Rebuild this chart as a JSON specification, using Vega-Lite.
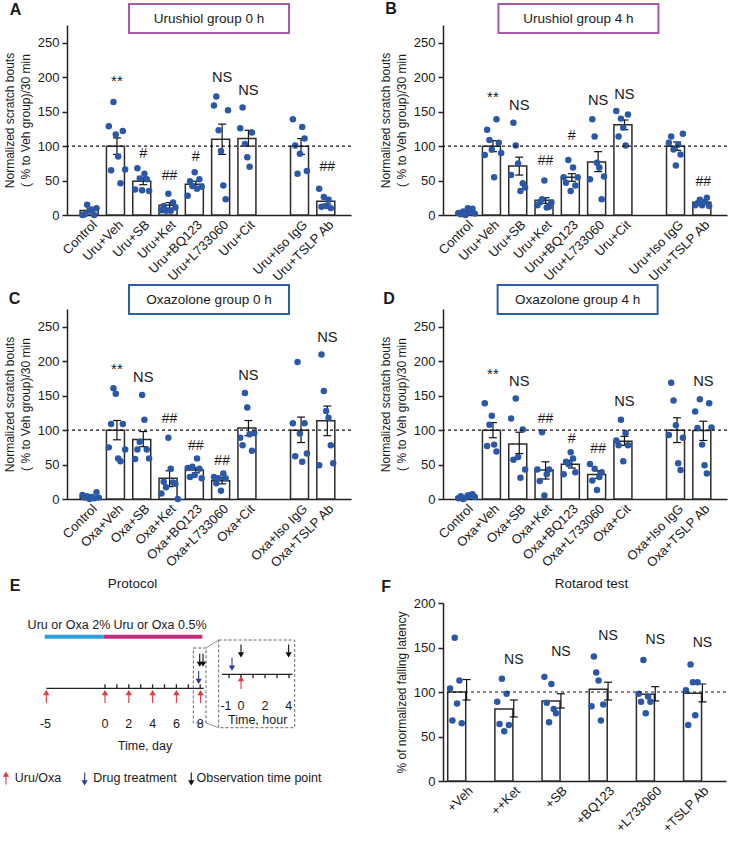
{
"$schema": "https://vega.github.io/schema/vega-lite/v6.json",
"background": "white",
"padding": {"left": 1, "top": 0, "right": 0, "bottom": 0},
"config": {
  "font": "Liberation Sans",
  "view": {"stroke": null},
  "axis": {"grid": false, "labelOverlap": false, "labelColor": "#1a1a1a", "titleColor": "#1a1a1a", "domainColor": "#222222", "tickColor": "#222222", "titleFontWeight": "normal", "labelFont": "Liberation Sans", "titleFont": "Liberation Sans"},
  "text": {"font": "Liberation Sans", "color": "#1a1a1a"}
},
"datasets": {
  "dots": [
    {"p":"A","g":"Control","r":1,"v":0},{"p":"A","g":"Control","r":2,"v":1},{"p":"A","g":"Control","r":3,"v":15},{"p":"A","g":"Control","r":4,"v":6},{"p":"A","g":"Control","r":5,"v":8},{"p":"A","g":"Control","r":6,"v":0},{"p":"A","g":"Control","r":7,"v":10},
    {"p":"A","g":"Uru+Veh","r":1,"v":129},{"p":"A","g":"Uru+Veh","r":2,"v":65},{"p":"A","g":"Uru+Veh","r":3,"v":164},{"p":"A","g":"Uru+Veh","r":4,"v":117},{"p":"A","g":"Uru+Veh","r":5,"v":85},{"p":"A","g":"Uru+Veh","r":6,"v":46},{"p":"A","g":"Uru+Veh","r":7,"v":122},{"p":"A","g":"Uru+Veh","r":8,"v":66},
    {"p":"A","g":"Uru+SB","r":1,"v":37},{"p":"A","g":"Uru+SB","r":2,"v":68},{"p":"A","g":"Uru+SB","r":3,"v":53},{"p":"A","g":"Uru+SB","r":4,"v":36},{"p":"A","g":"Uru+SB","r":5,"v":60},{"p":"A","g":"Uru+SB","r":6,"v":52},{"p":"A","g":"Uru+SB","r":7,"v":35},
    {"p":"A","g":"Uru+Ket","r":1,"v":7},{"p":"A","g":"Uru+Ket","r":2,"v":13},{"p":"A","g":"Uru+Ket","r":3,"v":6},{"p":"A","g":"Uru+Ket","r":4,"v":31},{"p":"A","g":"Uru+Ket","r":5,"v":6},{"p":"A","g":"Uru+Ket","r":6,"v":18},{"p":"A","g":"Uru+Ket","r":7,"v":11},
    {"p":"A","g":"Uru+BQ123","r":1,"v":28},{"p":"A","g":"Uru+BQ123","r":2,"v":49},{"p":"A","g":"Uru+BQ123","r":3,"v":42},{"p":"A","g":"Uru+BQ123","r":4,"v":62},{"p":"A","g":"Uru+BQ123","r":5,"v":38},{"p":"A","g":"Uru+BQ123","r":6,"v":52},{"p":"A","g":"Uru+BQ123","r":7,"v":41},
    {"p":"A","g":"Uru+L733060","r":1,"v":159},{"p":"A","g":"Uru+L733060","r":2,"v":172},{"p":"A","g":"Uru+L733060","r":3,"v":123},{"p":"A","g":"Uru+L733060","r":4,"v":93},{"p":"A","g":"Uru+L733060","r":5,"v":43},{"p":"A","g":"Uru+L733060","r":6,"v":23},{"p":"A","g":"Uru+L733060","r":7,"v":152},
    {"p":"A","g":"Uru+Cit","r":1,"v":126},{"p":"A","g":"Uru+Cit","r":2,"v":156},{"p":"A","g":"Uru+Cit","r":3,"v":103},{"p":"A","g":"Uru+Cit","r":4,"v":84},{"p":"A","g":"Uru+Cit","r":5,"v":70},{"p":"A","g":"Uru+Cit","r":6,"v":120},
    {"p":"A","g":"Uru+Iso IgG","r":1,"v":139},{"p":"A","g":"Uru+Iso IgG","r":2,"v":101},{"p":"A","g":"Uru+Iso IgG","r":3,"v":60},{"p":"A","g":"Uru+Iso IgG","r":4,"v":89},{"p":"A","g":"Uru+Iso IgG","r":5,"v":128},{"p":"A","g":"Uru+Iso IgG","r":6,"v":111},{"p":"A","g":"Uru+Iso IgG","r":7,"v":64},
    {"p":"A","g":"Uru+TSLP Ab","r":1,"v":38},{"p":"A","g":"Uru+TSLP Ab","r":2,"v":12},{"p":"A","g":"Uru+TSLP Ab","r":3,"v":26},{"p":"A","g":"Uru+TSLP Ab","r":4,"v":13},{"p":"A","g":"Uru+TSLP Ab","r":5,"v":22},{"p":"A","g":"Uru+TSLP Ab","r":6,"v":10},

    {"p":"B","g":"Control","r":1,"v":3},{"p":"B","g":"Control","r":2,"v":1},{"p":"B","g":"Control","r":3,"v":5},{"p":"B","g":"Control","r":4,"v":0},{"p":"B","g":"Control","r":5,"v":10},{"p":"B","g":"Control","r":6,"v":4},{"p":"B","g":"Control","r":7,"v":9},{"p":"B","g":"Control","r":8,"v":2},
    {"p":"B","g":"Uru+Veh","r":1,"v":87},{"p":"B","g":"Uru+Veh","r":2,"v":124},{"p":"B","g":"Uru+Veh","r":3,"v":109},{"p":"B","g":"Uru+Veh","r":4,"v":95},{"p":"B","g":"Uru+Veh","r":5,"v":55},{"p":"B","g":"Uru+Veh","r":6,"v":139},{"p":"B","g":"Uru+Veh","r":7,"v":105},{"p":"B","g":"Uru+Veh","r":8,"v":90},
    {"p":"B","g":"Uru+SB","r":1,"v":58},{"p":"B","g":"Uru+SB","r":2,"v":134},{"p":"B","g":"Uru+SB","r":3,"v":101},{"p":"B","g":"Uru+SB","r":4,"v":75},{"p":"B","g":"Uru+SB","r":5,"v":35},{"p":"B","g":"Uru+SB","r":6,"v":46},{"p":"B","g":"Uru+SB","r":7,"v":40},
    {"p":"B","g":"Uru+Ket","r":1,"v":14},{"p":"B","g":"Uru+Ket","r":2,"v":18},{"p":"B","g":"Uru+Ket","r":3,"v":23},{"p":"B","g":"Uru+Ket","r":4,"v":50},{"p":"B","g":"Uru+Ket","r":5,"v":11},{"p":"B","g":"Uru+Ket","r":6,"v":12},{"p":"B","g":"Uru+Ket","r":7,"v":18},
    {"p":"B","g":"Uru+BQ123","r":1,"v":55},{"p":"B","g":"Uru+BQ123","r":2,"v":47},{"p":"B","g":"Uru+BQ123","r":3,"v":80},{"p":"B","g":"Uru+BQ123","r":4,"v":35},{"p":"B","g":"Uru+BQ123","r":5,"v":69},{"p":"B","g":"Uru+BQ123","r":6,"v":43},{"p":"B","g":"Uru+BQ123","r":7,"v":55},
    {"p":"B","g":"Uru+L733060","r":1,"v":52},{"p":"B","g":"Uru+L733060","r":2,"v":139},{"p":"B","g":"Uru+L733060","r":3,"v":114},{"p":"B","g":"Uru+L733060","r":4,"v":76},{"p":"B","g":"Uru+L733060","r":5,"v":69},{"p":"B","g":"Uru+L733060","r":6,"v":23},{"p":"B","g":"Uru+L733060","r":7,"v":56},
    {"p":"B","g":"Uru+Cit","r":1,"v":151},{"p":"B","g":"Uru+Cit","r":2,"v":114},{"p":"B","g":"Uru+Cit","r":3,"v":140},{"p":"B","g":"Uru+Cit","r":4,"v":127},{"p":"B","g":"Uru+Cit","r":5,"v":101},{"p":"B","g":"Uru+Cit","r":6,"v":146},
    {"p":"B","g":"Uru+Iso IgG","r":1,"v":105},{"p":"B","g":"Uru+Iso IgG","r":2,"v":114},{"p":"B","g":"Uru+Iso IgG","r":3,"v":95},{"p":"B","g":"Uru+Iso IgG","r":4,"v":72},{"p":"B","g":"Uru+Iso IgG","r":5,"v":102},{"p":"B","g":"Uru+Iso IgG","r":6,"v":88},{"p":"B","g":"Uru+Iso IgG","r":7,"v":118},
    {"p":"B","g":"Uru+TSLP Ab","r":1,"v":14},{"p":"B","g":"Uru+TSLP Ab","r":2,"v":17},{"p":"B","g":"Uru+TSLP Ab","r":3,"v":22},{"p":"B","g":"Uru+TSLP Ab","r":4,"v":14},{"p":"B","g":"Uru+TSLP Ab","r":5,"v":19},{"p":"B","g":"Uru+TSLP Ab","r":6,"v":25},{"p":"B","g":"Uru+TSLP Ab","r":7,"v":13},

    {"p":"C","g":"Control","r":1,"v":6},{"p":"C","g":"Control","r":2,"v":2},{"p":"C","g":"Control","r":3,"v":4},{"p":"C","g":"Control","r":4,"v":0},{"p":"C","g":"Control","r":5,"v":3},{"p":"C","g":"Control","r":6,"v":1},{"p":"C","g":"Control","r":7,"v":10},{"p":"C","g":"Control","r":8,"v":2},
    {"p":"C","g":"Oxa+Veh","r":1,"v":75},{"p":"C","g":"Oxa+Veh","r":2,"v":109},{"p":"C","g":"Oxa+Veh","r":3,"v":161},{"p":"C","g":"Oxa+Veh","r":4,"v":153},{"p":"C","g":"Oxa+Veh","r":5,"v":59},{"p":"C","g":"Oxa+Veh","r":6,"v":55},{"p":"C","g":"Oxa+Veh","r":7,"v":109},{"p":"C","g":"Oxa+Veh","r":8,"v":72},
    {"p":"C","g":"Oxa+SB","r":1,"v":58},{"p":"C","g":"Oxa+SB","r":2,"v":72},{"p":"C","g":"Oxa+SB","r":3,"v":83},{"p":"C","g":"Oxa+SB","r":4,"v":151},{"p":"C","g":"Oxa+SB","r":5,"v":115},{"p":"C","g":"Oxa+SB","r":6,"v":72},{"p":"C","g":"Oxa+SB","r":7,"v":59},
    {"p":"C","g":"Oxa+Ket","r":1,"v":8},{"p":"C","g":"Oxa+Ket","r":2,"v":25},{"p":"C","g":"Oxa+Ket","r":3,"v":17},{"p":"C","g":"Oxa+Ket","r":4,"v":89},{"p":"C","g":"Oxa+Ket","r":5,"v":44},{"p":"C","g":"Oxa+Ket","r":6,"v":24},{"p":"C","g":"Oxa+Ket","r":7,"v":22},{"p":"C","g":"Oxa+Ket","r":8,"v":0},
    {"p":"C","g":"Oxa+BQ123","r":1,"v":45},{"p":"C","g":"Oxa+BQ123","r":2,"v":32},{"p":"C","g":"Oxa+BQ123","r":3,"v":47},{"p":"C","g":"Oxa+BQ123","r":4,"v":35},{"p":"C","g":"Oxa+BQ123","r":5,"v":59},{"p":"C","g":"Oxa+BQ123","r":6,"v":44},{"p":"C","g":"Oxa+BQ123","r":7,"v":30},
    {"p":"C","g":"Oxa+L733060","r":1,"v":32},{"p":"C","g":"Oxa+L733060","r":2,"v":23},{"p":"C","g":"Oxa+L733060","r":3,"v":30},{"p":"C","g":"Oxa+L733060","r":4,"v":12},{"p":"C","g":"Oxa+L733060","r":5,"v":37},{"p":"C","g":"Oxa+L733060","r":6,"v":30},
    {"p":"C","g":"Oxa+Cit","r":1,"v":89},{"p":"C","g":"Oxa+Cit","r":2,"v":78},{"p":"C","g":"Oxa+Cit","r":3,"v":154},{"p":"C","g":"Oxa+Cit","r":4,"v":133},{"p":"C","g":"Oxa+Cit","r":5,"v":94},{"p":"C","g":"Oxa+Cit","r":6,"v":70},{"p":"C","g":"Oxa+Cit","r":7,"v":96},
    {"p":"C","g":"Oxa+Iso IgG","r":1,"v":110},{"p":"C","g":"Oxa+Iso IgG","r":2,"v":62},{"p":"C","g":"Oxa+Iso IgG","r":3,"v":199},{"p":"C","g":"Oxa+Iso IgG","r":4,"v":95},{"p":"C","g":"Oxa+Iso IgG","r":5,"v":54},{"p":"C","g":"Oxa+Iso IgG","r":6,"v":110},{"p":"C","g":"Oxa+Iso IgG","r":7,"v":66},
    {"p":"C","g":"Oxa+TSLP Ab","r":1,"v":49},{"p":"C","g":"Oxa+TSLP Ab","r":2,"v":210},{"p":"C","g":"Oxa+TSLP Ab","r":3,"v":157},{"p":"C","g":"Oxa+TSLP Ab","r":4,"v":128},{"p":"C","g":"Oxa+TSLP Ab","r":5,"v":118},{"p":"C","g":"Oxa+TSLP Ab","r":6,"v":78},{"p":"C","g":"Oxa+TSLP Ab","r":7,"v":52},

    {"p":"D","g":"Control","r":1,"v":1},{"p":"D","g":"Control","r":2,"v":4},{"p":"D","g":"Control","r":3,"v":0},{"p":"D","g":"Control","r":4,"v":2},{"p":"D","g":"Control","r":5,"v":5},{"p":"D","g":"Control","r":6,"v":6},{"p":"D","g":"Control","r":7,"v":7},{"p":"D","g":"Control","r":8,"v":3},
    {"p":"D","g":"Oxa+Veh","r":1,"v":139},{"p":"D","g":"Oxa+Veh","r":2,"v":77},{"p":"D","g":"Oxa+Veh","r":3,"v":108},{"p":"D","g":"Oxa+Veh","r":4,"v":121},{"p":"D","g":"Oxa+Veh","r":5,"v":79},{"p":"D","g":"Oxa+Veh","r":6,"v":69},
    {"p":"D","g":"Oxa+SB","r":1,"v":117},{"p":"D","g":"Oxa+SB","r":2,"v":57},{"p":"D","g":"Oxa+SB","r":3,"v":146},{"p":"D","g":"Oxa+SB","r":4,"v":61},{"p":"D","g":"Oxa+SB","r":5,"v":31},{"p":"D","g":"Oxa+SB","r":6,"v":101},{"p":"D","g":"Oxa+SB","r":7,"v":43},
    {"p":"D","g":"Oxa+Ket","r":1,"v":43},{"p":"D","g":"Oxa+Ket","r":2,"v":26},{"p":"D","g":"Oxa+Ket","r":3,"v":97},{"p":"D","g":"Oxa+Ket","r":4,"v":5},{"p":"D","g":"Oxa+Ket","r":5,"v":36},{"p":"D","g":"Oxa+Ket","r":6,"v":43},
    {"p":"D","g":"Oxa+BQ123","r":1,"v":36},{"p":"D","g":"Oxa+BQ123","r":2,"v":54},{"p":"D","g":"Oxa+BQ123","r":3,"v":51},{"p":"D","g":"Oxa+BQ123","r":4,"v":68},{"p":"D","g":"Oxa+BQ123","r":5,"v":59},{"p":"D","g":"Oxa+BQ123","r":6,"v":39},
    {"p":"D","g":"Oxa+L733060","r":1,"v":51},{"p":"D","g":"Oxa+L733060","r":2,"v":27},{"p":"D","g":"Oxa+L733060","r":3,"v":44},{"p":"D","g":"Oxa+L733060","r":4,"v":13},{"p":"D","g":"Oxa+L733060","r":5,"v":32},{"p":"D","g":"Oxa+L733060","r":6,"v":39},
    {"p":"D","g":"Oxa+Cit","r":1,"v":85},{"p":"D","g":"Oxa+Cit","r":2,"v":78},{"p":"D","g":"Oxa+Cit","r":3,"v":115},{"p":"D","g":"Oxa+Cit","r":4,"v":55},{"p":"D","g":"Oxa+Cit","r":5,"v":96},{"p":"D","g":"Oxa+Cit","r":6,"v":78},
    {"p":"D","g":"Oxa+Iso IgG","r":1,"v":93},{"p":"D","g":"Oxa+Iso IgG","r":2,"v":169},{"p":"D","g":"Oxa+Iso IgG","r":3,"v":143},{"p":"D","g":"Oxa+Iso IgG","r":4,"v":107},{"p":"D","g":"Oxa+Iso IgG","r":5,"v":52},{"p":"D","g":"Oxa+Iso IgG","r":6,"v":42},{"p":"D","g":"Oxa+Iso IgG","r":7,"v":89},
    {"p":"D","g":"Oxa+TSLP Ab","r":1,"v":127},{"p":"D","g":"Oxa+TSLP Ab","r":2,"v":103},{"p":"D","g":"Oxa+TSLP Ab","r":3,"v":145},{"p":"D","g":"Oxa+TSLP Ab","r":4,"v":79},{"p":"D","g":"Oxa+TSLP Ab","r":5,"v":49},{"p":"D","g":"Oxa+TSLP Ab","r":6,"v":37},{"p":"D","g":"Oxa+TSLP Ab","r":7,"v":139},{"p":"D","g":"Oxa+TSLP Ab","r":8,"v":104},

    {"p":"F","g":"+Veh","r":1,"v":104},{"p":"F","g":"+Veh","r":2,"v":68},{"p":"F","g":"+Veh","r":3,"v":161},{"p":"F","g":"+Veh","r":4,"v":87},{"p":"F","g":"+Veh","r":5,"v":113},{"p":"F","g":"+Veh","r":6,"v":65},
    {"p":"F","g":"++Ket","r":1,"v":89},{"p":"F","g":"++Ket","r":2,"v":64},{"p":"F","g":"++Ket","r":3,"v":115},{"p":"F","g":"++Ket","r":4,"v":56},{"p":"F","g":"++Ket","r":5,"v":98},{"p":"F","g":"++Ket","r":6,"v":63},
    {"p":"F","g":"+SB","r":1,"v":117},{"p":"F","g":"+SB","r":2,"v":88},{"p":"F","g":"+SB","r":3,"v":66},{"p":"F","g":"+SB","r":4,"v":109},{"p":"F","g":"+SB","r":5,"v":81},{"p":"F","g":"+SB","r":6,"v":76},
    {"p":"F","g":"+BQ123","r":1,"v":84},{"p":"F","g":"+BQ123","r":2,"v":140},{"p":"F","g":"+BQ123","r":3,"v":122},{"p":"F","g":"+BQ123","r":4,"v":113},{"p":"F","g":"+BQ123","r":5,"v":68},{"p":"F","g":"+BQ123","r":6,"v":86},
    {"p":"F","g":"+L733060","r":1,"v":98},{"p":"F","g":"+L733060","r":2,"v":89},{"p":"F","g":"+L733060","r":3,"v":136},{"p":"F","g":"+L733060","r":4,"v":76},{"p":"F","g":"+L733060","r":5,"v":95},{"p":"F","g":"+L733060","r":6,"v":89},
    {"p":"F","g":"+TSLP Ab","r":1,"v":102},{"p":"F","g":"+TSLP Ab","r":2,"v":63},{"p":"F","g":"+TSLP Ab","r":3,"v":131},{"p":"F","g":"+TSLP Ab","r":4,"v":111},{"p":"F","g":"+TSLP Ab","r":5,"v":74},{"p":"F","g":"+TSLP Ab","r":6,"v":111}
  ],
  "bars": [
    {"p":"A","g":"Control","m":6.5,"lo":4,"hi":9},{"p":"A","g":"Uru+Veh","m":100,"lo":88,"hi":112},{"p":"A","g":"Uru+SB","m":49,"lo":44,"hi":54},{"p":"A","g":"Uru+Ket","m":14,"lo":10,"hi":18},{"p":"A","g":"Uru+BQ123","m":44.5,"lo":40,"hi":49},{"p":"A","g":"Uru+L733060","m":110,"lo":88,"hi":132},{"p":"A","g":"Uru+Cit","m":111,"lo":100,"hi":123},{"p":"A","g":"Uru+Iso IgG","m":100,"lo":88,"hi":111},{"p":"A","g":"Uru+TSLP Ab","m":20,"lo":16,"hi":25},
    {"p":"B","g":"Control","m":4,"lo":3,"hi":5},{"p":"B","g":"Uru+Veh","m":100,"lo":92,"hi":108},{"p":"B","g":"Uru+SB","m":71,"lo":58,"hi":84},{"p":"B","g":"Uru+Ket","m":21.5,"lo":17,"hi":25},{"p":"B","g":"Uru+BQ123","m":55,"lo":49,"hi":60},{"p":"B","g":"Uru+L733060","m":77,"lo":63,"hi":92},{"p":"B","g":"Uru+Cit","m":131,"lo":124,"hi":138},{"p":"B","g":"Uru+Iso IgG","m":100,"lo":94,"hi":106},{"p":"B","g":"Uru+TSLP Ab","m":18.5,"lo":16,"hi":21},
    {"p":"C","g":"Control","m":3,"lo":2,"hi":4},{"p":"C","g":"Oxa+Veh","m":100,"lo":86,"hi":114},{"p":"C","g":"Oxa+SB","m":86.5,"lo":76,"hi":98},{"p":"C","g":"Oxa+Ket","m":30,"lo":18,"hi":41},{"p":"C","g":"Oxa+BQ123","m":42,"lo":38,"hi":45},{"p":"C","g":"Oxa+L733060","m":26.5,"lo":22,"hi":31},{"p":"C","g":"Oxa+Cit","m":103,"lo":92,"hi":114},{"p":"C","g":"Oxa+Iso IgG","m":100,"lo":82,"hi":119},{"p":"C","g":"Oxa+TSLP Ab","m":113.5,"lo":92,"hi":135},
    {"p":"D","g":"Control","m":3.5,"lo":2,"hi":5},{"p":"D","g":"Oxa+Veh","m":100,"lo":89,"hi":111},{"p":"D","g":"Oxa+SB","m":80,"lo":66,"hi":97},{"p":"D","g":"Oxa+Ket","m":42,"lo":29,"hi":54},{"p":"D","g":"Oxa+BQ123","m":50.5,"lo":45,"hi":56},{"p":"D","g":"Oxa+L733060","m":35.5,"lo":30,"hi":41},{"p":"D","g":"Oxa+Cit","m":84,"lo":78,"hi":91},{"p":"D","g":"Oxa+Iso IgG","m":100,"lo":82,"hi":118},{"p":"D","g":"Oxa+TSLP Ab","m":99.5,"lo":85,"hi":113},
    {"p":"F","g":"+Veh","m":100,"lo":91,"hi":114},{"p":"F","g":"++Ket","m":81,"lo":72,"hi":91},{"p":"F","g":"+SB","m":90,"lo":82,"hi":98},{"p":"F","g":"+BQ123","m":103,"lo":91,"hi":111},{"p":"F","g":"+L733060","m":97.5,"lo":90,"hi":106},{"p":"F","g":"+TSLP Ab","m":98.5,"lo":89,"hi":109}
  ],
  "sig": [
    {"p":"A","g":"Uru+Veh","s":"**","y":194},{"p":"A","g":"Uru+SB","s":"#","y":88},{"p":"A","g":"Uru+Ket","s":"##","y":56.5},{"p":"A","g":"Uru+BQ123","s":"#","y":84.5},{"p":"A","g":"Uru+L733060","s":"NS","y":199},{"p":"A","g":"Uru+Cit","s":"NS","y":180},{"p":"A","g":"Uru+TSLP Ab","s":"##","y":70},
    {"p":"B","g":"Uru+Veh","s":"**","y":171},{"p":"B","g":"Uru+SB","s":"NS","y":159},{"p":"B","g":"Uru+Ket","s":"##","y":78},{"p":"B","g":"Uru+BQ123","s":"#","y":115},{"p":"B","g":"Uru+L733060","s":"NS","y":166},{"p":"B","g":"Uru+Cit","s":"NS","y":175},{"p":"B","g":"Uru+TSLP Ab","s":"##","y":48},
    {"p":"C","g":"Oxa+Veh","s":"**","y":189},{"p":"C","g":"Oxa+SB","s":"NS","y":176},{"p":"C","g":"Oxa+Ket","s":"##","y":115.5},{"p":"C","g":"Oxa+BQ123","s":"##","y":77},{"p":"C","g":"Oxa+L733060","s":"##","y":55.5},{"p":"C","g":"Oxa+Cit","s":"NS","y":178},{"p":"C","g":"Oxa+TSLP Ab","s":"NS","y":234},
    {"p":"D","g":"Oxa+Veh","s":"**","y":181},{"p":"D","g":"Oxa+SB","s":"NS","y":170.5},{"p":"D","g":"Oxa+Ket","s":"##","y":115.6},{"p":"D","g":"Oxa+BQ123","s":"#","y":87.7},{"p":"D","g":"Oxa+L733060","s":"##","y":72},{"p":"D","g":"Oxa+Cit","s":"NS","y":140.6},{"p":"D","g":"Oxa+TSLP Ab","s":"NS","y":170.5},
    {"p":"F","g":"++Ket","s":"NS","y":136},{"p":"F","g":"+SB","s":"NS","y":144.5},{"p":"F","g":"+BQ123","s":"NS","y":163},{"p":"F","g":"+L733060","s":"NS","y":158.7},{"p":"F","g":"+TSLP Ab","s":"NS","y":154.6}
  ],
  "eBars": [{"x":-5.07,"x2":-0.11,"y":43.7,"k":"2%"},{"x":-0.11,"x2":8.18,"y":43.7,"k":"0.5%"}],
  "eLines": [
    {"x":-4.93,"x2":8.29,"y":95.3,"y2":95.3},
    {"x":0,"x2":0,"y":91.3,"y2":95.3},{"x":1,"x2":1,"y":91.3,"y2":95.3},{"x":2,"x2":2,"y":91.3,"y2":95.3},{"x":3,"x2":3,"y":91.3,"y2":95.3},{"x":4,"x2":4,"y":91.3,"y2":95.3},{"x":5,"x2":5,"y":91.3,"y2":95.3},{"x":6,"x2":6,"y":91.3,"y2":95.3},{"x":7,"x2":7,"y":91.3,"y2":95.3},{"x":8,"x2":8,"y":91.3,"y2":95.3}
  ],
  "eBoxes": [{"x":7.42,"x2":8.49,"y":55,"y2":130},{"x":9.55,"x2":15.94,"y":47,"y2":134.7}],
  "eConn": [{"x":8.49,"x2":9.55,"y":55,"y2":47},{"x":8.49,"x2":9.55,"y":130,"y2":134.7}],
  "eArrowsD": [
    {"x":-4.93,"y":104,"k":"Uru/Oxa"},{"x":0,"y":104,"k":"Uru/Oxa"},{"x":2,"y":104,"k":"Uru/Oxa"},{"x":4,"y":104,"k":"Uru/Oxa"},{"x":6,"y":104,"k":"Uru/Oxa"},{"x":8.03,"y":104,"k":"Uru/Oxa"},
    {"x":7.96,"y":66.8,"k":"Observation time point"},{"x":8.24,"y":66.8,"k":"Observation time point"},{"x":7.87,"y":84,"k":"Drug treatment"},
    {"x":-8.32,"y":185.5,"k":"Uru/Oxa"},{"x":-1.71,"y":185.5,"k":"Drug treatment"},{"x":7.25,"y":185.5,"k":"Observation time point"}
  ],
  "eTextD": [
    {"x":-3.03,"y":32.3,"t":"Uru or Oxa 2%"},{"x":4.62,"y":32.3,"t":"Uru or Oxa 0.5%"},
    {"x":-5,"y":130.7,"t":"-5"},{"x":0,"y":130.7,"t":"0"},{"x":2,"y":130.7,"t":"2"},{"x":4,"y":130.7,"t":"4"},{"x":6,"y":130.7,"t":"6"},{"x":8,"y":130.7,"t":"8"},
    {"x":3.36,"y":153,"t":"Time, day"},
    {"x":-5.63,"y":185.3,"t":"Uru/Oxa"},{"x":2.52,"y":185.3,"t":"Drug treatment"},{"x":12.94,"y":185.3,"t":"Observation time point"}
  ],
  "eLinesH": [
    {"x":-1.58,"x2":4.3,"y":81.3,"y2":81.3},
    {"x":-1,"x2":-1,"y":81.3,"y2":85.3},{"x":0,"x2":0,"y":81.3,"y2":85.3},{"x":1,"x2":1,"y":81.3,"y2":85.3},{"x":2,"x2":2,"y":81.3,"y2":85.3},{"x":3,"x2":3,"y":81.3,"y2":85.3},{"x":4,"x2":4,"y":81.3,"y2":85.3}
  ],
  "eArrowsH": [
    {"x":-0.75,"y":70.7,"k":"Drug treatment"},{"x":0,"y":57.5,"k":"Observation time point"},{"x":3.97,"y":57.5,"k":"Observation time point"},{"x":0,"y":90,"k":"Uru/Oxa"}
  ],
  "eTextH": [
    {"x":-1.25,"y":113,"t":"-1"},{"x":0,"y":113,"t":"0"},{"x":2,"y":113,"t":"2"},{"x":3.97,"y":113,"t":"4"},{"x":1.39,"y":127,"t":"Time, hour"}
  ]
},
"columns": 2,
"bounds": "flush",
"spacing": {"row": 94, "column": 92},
"concat": [
  {
    "width": 284, "height": 190,
    "resolve": {"scale": {"x": "independent"}},
    "layer": [
      {"layer": [
        {"data": {"name": "bars"}, "transform": [{"filter": "datum.p == 'A'"}],
         "mark": {"type": "bar", "fill": "white", "stroke": "#2b2b2b", "strokeWidth": 1.5},
         "encoding": {
           "x": {"field": "g", "type": "nominal", "sort": null, "title": null,
                 "scale": {"domain": ["Control","Uru+Veh","Uru+SB","Uru+Ket","Uru+BQ123","Uru+L733060","Uru+Cit","gap","Uru+Iso IgG","Uru+TSLP Ab"], "paddingInner": 0.2, "paddingOuter": 0.5},
                 "axis": {"labelAngle": -45, "labelFontSize": 13, "ticks": false, "domainWidth": 1.5, "labelPadding": 3, "labelExpr": "datum.value == 'gap' ? '' : datum.value"}},
           "y": {"field": "m", "type": "quantitative", "title": ["Normalized scratch bouts", "( % to Veh group)/30 min"],
                 "scale": {"domain": [0, 276], "nice": false},
                 "axis": {"values": [0,50,100,150,200,250], "tickCount": 12, "labelOverlap": false, "labelFontSize": 13, "tickSize": 5, "tickWidth": 1.5, "domainWidth": 1.5, "labelPadding": 3, "titleFontSize": 12, "titleLineHeight": 16, "titlePadding": 5}}
         }},
        {"data": {"name": "bars"}, "transform": [{"filter": "datum.p == 'A'"}],
         "mark": {"type": "rule", "color": "#111111", "strokeWidth": 1.2},
         "encoding": {"x": {"field": "g", "type": "nominal"}, "y": {"field": "lo", "type": "quantitative"}, "y2": {"field": "hi"}}},
        {"data": {"name": "bars"}, "transform": [{"filter": "datum.p == 'A'"}],
         "mark": {"type": "tick", "color": "#111111", "size": 8, "thickness": 1.2, "opacity": 1},
         "encoding": {"x": {"field": "g", "type": "nominal"}, "y": {"field": "lo", "type": "quantitative"}}},
        {"data": {"name": "bars"}, "transform": [{"filter": "datum.p == 'A'"}],
         "mark": {"type": "tick", "color": "#111111", "size": 8, "thickness": 1.2, "opacity": 1},
         "encoding": {"x": {"field": "g", "type": "nominal"}, "y": {"field": "hi", "type": "quantitative"}}},
        {"data": {"name": "dots"}, "transform": [{"filter": "datum.p == 'A'"}],
         "mark": {"type": "point", "filled": true, "color": "#2a58a6", "size": 42, "opacity": 1, "strokeWidth": 0},
         "encoding": {"x": {"field": "g", "type": "nominal"}, "xOffset": {"field": "r", "type": "ordinal", "scale": {"domain": [1,2,3,4,5,6,7,8]}}, "y": {"field": "v", "type": "quantitative"}}},
        {"data": {"values": [{}]},
         "mark": {"type": "rule", "strokeDash": [3, 3], "color": "#111111", "strokeWidth": 1.2},
         "encoding": {"y": {"datum": 100, "type": "quantitative"}}},
        {"data": {"name": "sig"}, "transform": [{"filter": "datum.p == 'A'"}],
         "mark": {"type": "text", "baseline": "middle", "align": "center"},
         "encoding": {"x": {"field": "g", "type": "nominal"}, "y": {"field": "y", "type": "quantitative"}, "text": {"field": "s"},
                      "size": {"field": "s", "type": "nominal", "scale": {"domain": ["**","NS","#","##"], "range": [15,14,10.5,10.5]}, "legend": null}}}
      ]},
      {"data": {"values": [{"letter": "A", "title": "Urushiol group 0 h"}]},
       "layer": [
        {"mark": {"type": "text", "fontSize": 16, "fontWeight": "bold", "baseline": "middle", "align": "center"},
         "encoding": {"x": {"datum": -0.181, "type": "quantitative", "scale": {"domain": [0, 1]}, "axis": null}, "y": {"datum": 297.8, "type": "quantitative"}, "text": {"field": "letter"}}},
        {"mark": {"type": "point", "shape": "M-1,-0.181L1,-0.181L1,0.181L-1,0.181Z", "size": 25600, "filled": false, "stroke": "#a65aa8", "strokeWidth": 2, "opacity": 1},
         "encoding": {"x": {"datum": 0.5, "type": "quantitative", "scale": {"domain": [0, 1]}, "axis": null}, "y": {"datum": 285.4, "type": "quantitative"}}},
        {"mark": {"type": "text", "fontSize": 13.5, "baseline": "middle", "align": "center"},
         "encoding": {"x": {"datum": 0.5, "type": "quantitative", "scale": {"domain": [0, 1]}, "axis": null}, "y": {"datum": 285.4, "type": "quantitative"}, "text": {"field": "title"}}}
       ]}
    ]
  },
  {
    "width": 284, "height": 190,
    "resolve": {"scale": {"x": "independent"}},
    "layer": [
      {"layer": [
        {"data": {"name": "bars"}, "transform": [{"filter": "datum.p == 'B'"}],
         "mark": {"type": "bar", "fill": "white", "stroke": "#2b2b2b", "strokeWidth": 1.5},
         "encoding": {
           "x": {"field": "g", "type": "nominal", "sort": null, "title": null,
                 "scale": {"domain": ["Control","Uru+Veh","Uru+SB","Uru+Ket","Uru+BQ123","Uru+L733060","Uru+Cit","gap","Uru+Iso IgG","Uru+TSLP Ab"], "paddingInner": 0.2, "paddingOuter": 0.5},
                 "axis": {"labelAngle": -45, "labelFontSize": 13, "ticks": false, "domainWidth": 1.5, "labelPadding": 3, "labelExpr": "datum.value == 'gap' ? '' : datum.value"}},
           "y": {"field": "m", "type": "quantitative", "title": ["Normalized scratch bouts", "( % to Veh group)/30 min"],
                 "scale": {"domain": [0, 276], "nice": false},
                 "axis": {"values": [0,50,100,150,200,250], "tickCount": 12, "labelOverlap": false, "labelFontSize": 13, "tickSize": 5, "tickWidth": 1.5, "domainWidth": 1.5, "labelPadding": 3, "titleFontSize": 12, "titleLineHeight": 16, "titlePadding": 5}}
         }},
        {"data": {"name": "bars"}, "transform": [{"filter": "datum.p == 'B'"}],
         "mark": {"type": "rule", "color": "#111111", "strokeWidth": 1.2},
         "encoding": {"x": {"field": "g", "type": "nominal"}, "y": {"field": "lo", "type": "quantitative"}, "y2": {"field": "hi"}}},
        {"data": {"name": "bars"}, "transform": [{"filter": "datum.p == 'B'"}],
         "mark": {"type": "tick", "color": "#111111", "size": 8, "thickness": 1.2, "opacity": 1},
         "encoding": {"x": {"field": "g", "type": "nominal"}, "y": {"field": "lo", "type": "quantitative"}}},
        {"data": {"name": "bars"}, "transform": [{"filter": "datum.p == 'B'"}],
         "mark": {"type": "tick", "color": "#111111", "size": 8, "thickness": 1.2, "opacity": 1},
         "encoding": {"x": {"field": "g", "type": "nominal"}, "y": {"field": "hi", "type": "quantitative"}}},
        {"data": {"name": "dots"}, "transform": [{"filter": "datum.p == 'B'"}],
         "mark": {"type": "point", "filled": true, "color": "#2a58a6", "size": 42, "opacity": 1, "strokeWidth": 0},
         "encoding": {"x": {"field": "g", "type": "nominal"}, "xOffset": {"field": "r", "type": "ordinal", "scale": {"domain": [1,2,3,4,5,6,7,8]}}, "y": {"field": "v", "type": "quantitative"}}},
        {"data": {"values": [{}]},
         "mark": {"type": "rule", "strokeDash": [3, 3], "color": "#111111", "strokeWidth": 1.2},
         "encoding": {"y": {"datum": 100, "type": "quantitative"}}},
        {"data": {"name": "sig"}, "transform": [{"filter": "datum.p == 'B'"}],
         "mark": {"type": "text", "baseline": "middle", "align": "center"},
         "encoding": {"x": {"field": "g", "type": "nominal"}, "y": {"field": "y", "type": "quantitative"}, "text": {"field": "s"},
                      "size": {"field": "s", "type": "nominal", "scale": {"domain": ["**","NS","#","##"], "range": [15,14,10.5,10.5]}, "legend": null}}}
      ]},
      {"data": {"values": [{"letter": "B", "title": "Urushiol group 4 h"}]},
       "layer": [
        {"mark": {"type": "text", "fontSize": 16, "fontWeight": "bold", "baseline": "middle", "align": "center"},
         "encoding": {"x": {"datum": -0.183, "type": "quantitative", "scale": {"domain": [0, 1]}, "axis": null}, "y": {"datum": 299, "type": "quantitative"}, "text": {"field": "letter"}}},
        {"mark": {"type": "point", "shape": "M-1,-0.181L1,-0.181L1,0.181L-1,0.181Z", "size": 25600, "filled": false, "stroke": "#a65aa8", "strokeWidth": 2, "opacity": 1},
         "encoding": {"x": {"datum": 0.477, "type": "quantitative", "scale": {"domain": [0, 1]}, "axis": null}, "y": {"datum": 285.4, "type": "quantitative"}}},
        {"mark": {"type": "text", "fontSize": 13.5, "baseline": "middle", "align": "center"},
         "encoding": {"x": {"datum": 0.477, "type": "quantitative", "scale": {"domain": [0, 1]}, "axis": null}, "y": {"datum": 285.4, "type": "quantitative"}, "text": {"field": "title"}}}
       ]}
    ]
  },
  {
    "width": 284, "height": 190,
    "resolve": {"scale": {"x": "independent"}},
    "layer": [
      {"layer": [
        {"data": {"name": "bars"}, "transform": [{"filter": "datum.p == 'C'"}],
         "mark": {"type": "bar", "fill": "white", "stroke": "#2b2b2b", "strokeWidth": 1.5},
         "encoding": {
           "x": {"field": "g", "type": "nominal", "sort": null, "title": null,
                 "scale": {"domain": ["Control","Oxa+Veh","Oxa+SB","Oxa+Ket","Oxa+BQ123","Oxa+L733060","Oxa+Cit","gap","Oxa+Iso IgG","Oxa+TSLP Ab"], "paddingInner": 0.2, "paddingOuter": 0.5},
                 "axis": {"labelAngle": -45, "labelFontSize": 13, "ticks": false, "domainWidth": 1.5, "labelPadding": 3, "labelExpr": "datum.value == 'gap' ? '' : datum.value"}},
           "y": {"field": "m", "type": "quantitative", "title": ["Normalized scratch bouts", "( % to Veh group)/30 min"],
                 "scale": {"domain": [0, 276], "nice": false},
                 "axis": {"values": [0,50,100,150,200,250], "tickCount": 12, "labelOverlap": false, "labelFontSize": 13, "tickSize": 5, "tickWidth": 1.5, "domainWidth": 1.5, "labelPadding": 3, "titleFontSize": 12, "titleLineHeight": 16, "titlePadding": 5}}
         }},
        {"data": {"name": "bars"}, "transform": [{"filter": "datum.p == 'C'"}],
         "mark": {"type": "rule", "color": "#111111", "strokeWidth": 1.2},
         "encoding": {"x": {"field": "g", "type": "nominal"}, "y": {"field": "lo", "type": "quantitative"}, "y2": {"field": "hi"}}},
        {"data": {"name": "bars"}, "transform": [{"filter": "datum.p == 'C'"}],
         "mark": {"type": "tick", "color": "#111111", "size": 8, "thickness": 1.2, "opacity": 1},
         "encoding": {"x": {"field": "g", "type": "nominal"}, "y": {"field": "lo", "type": "quantitative"}}},
        {"data": {"name": "bars"}, "transform": [{"filter": "datum.p == 'C'"}],
         "mark": {"type": "tick", "color": "#111111", "size": 8, "thickness": 1.2, "opacity": 1},
         "encoding": {"x": {"field": "g", "type": "nominal"}, "y": {"field": "hi", "type": "quantitative"}}},
        {"data": {"name": "dots"}, "transform": [{"filter": "datum.p == 'C'"}],
         "mark": {"type": "point", "filled": true, "color": "#2a58a6", "size": 42, "opacity": 1, "strokeWidth": 0},
         "encoding": {"x": {"field": "g", "type": "nominal"}, "xOffset": {"field": "r", "type": "ordinal", "scale": {"domain": [1,2,3,4,5,6,7,8]}}, "y": {"field": "v", "type": "quantitative"}}},
        {"data": {"values": [{}]},
         "mark": {"type": "rule", "strokeDash": [3, 3], "color": "#111111", "strokeWidth": 1.2},
         "encoding": {"y": {"datum": 100, "type": "quantitative"}}},
        {"data": {"name": "sig"}, "transform": [{"filter": "datum.p == 'C'"}],
         "mark": {"type": "text", "baseline": "middle", "align": "center"},
         "encoding": {"x": {"field": "g", "type": "nominal"}, "y": {"field": "y", "type": "quantitative"}, "text": {"field": "s"},
                      "size": {"field": "s", "type": "nominal", "scale": {"domain": ["**","NS","#","##"], "range": [15,14,10.5,10.5]}, "legend": null}}}
      ]},
      {"data": {"values": [{"letter": "C", "title": "Oxazolone group 0 h"}]},
       "layer": [
        {"mark": {"type": "text", "fontSize": 16, "fontWeight": "bold", "baseline": "middle", "align": "center"},
         "encoding": {"x": {"datum": -0.185, "type": "quantitative", "scale": {"domain": [0, 1]}, "axis": null}, "y": {"datum": 290.5, "type": "quantitative"}, "text": {"field": "letter"}}},
        {"mark": {"type": "point", "shape": "M-1,-0.181L1,-0.181L1,0.181L-1,0.181Z", "size": 25600, "filled": false, "stroke": "#2e60a8", "strokeWidth": 2, "opacity": 1},
         "encoding": {"x": {"datum": 0.5, "type": "quantitative", "scale": {"domain": [0, 1]}, "axis": null}, "y": {"datum": 289.8, "type": "quantitative"}}},
        {"mark": {"type": "text", "fontSize": 13.5, "baseline": "middle", "align": "center"},
         "encoding": {"x": {"datum": 0.5, "type": "quantitative", "scale": {"domain": [0, 1]}, "axis": null}, "y": {"datum": 289.8, "type": "quantitative"}, "text": {"field": "title"}}}
       ]}
    ]
  },
  {
    "width": 284, "height": 190,
    "resolve": {"scale": {"x": "independent"}},
    "layer": [
      {"layer": [
        {"data": {"name": "bars"}, "transform": [{"filter": "datum.p == 'D'"}],
         "mark": {"type": "bar", "fill": "white", "stroke": "#2b2b2b", "strokeWidth": 1.5},
         "encoding": {
           "x": {"field": "g", "type": "nominal", "sort": null, "title": null,
                 "scale": {"domain": ["Control","Oxa+Veh","Oxa+SB","Oxa+Ket","Oxa+BQ123","Oxa+L733060","Oxa+Cit","gap","Oxa+Iso IgG","Oxa+TSLP Ab"], "paddingInner": 0.2, "paddingOuter": 0.5},
                 "axis": {"labelAngle": -45, "labelFontSize": 13, "ticks": false, "domainWidth": 1.5, "labelPadding": 3, "labelExpr": "datum.value == 'gap' ? '' : datum.value"}},
           "y": {"field": "m", "type": "quantitative", "title": ["Normalized scratch bouts", "( % to Veh group)/30 min"],
                 "scale": {"domain": [0, 276], "nice": false},
                 "axis": {"values": [0,50,100,150,200,250], "tickCount": 12, "labelOverlap": false, "labelFontSize": 13, "tickSize": 5, "tickWidth": 1.5, "domainWidth": 1.5, "labelPadding": 3, "titleFontSize": 12, "titleLineHeight": 16, "titlePadding": 5}}
         }},
        {"data": {"name": "bars"}, "transform": [{"filter": "datum.p == 'D'"}],
         "mark": {"type": "rule", "color": "#111111", "strokeWidth": 1.2},
         "encoding": {"x": {"field": "g", "type": "nominal"}, "y": {"field": "lo", "type": "quantitative"}, "y2": {"field": "hi"}}},
        {"data": {"name": "bars"}, "transform": [{"filter": "datum.p == 'D'"}],
         "mark": {"type": "tick", "color": "#111111", "size": 8, "thickness": 1.2, "opacity": 1},
         "encoding": {"x": {"field": "g", "type": "nominal"}, "y": {"field": "lo", "type": "quantitative"}}},
        {"data": {"name": "bars"}, "transform": [{"filter": "datum.p == 'D'"}],
         "mark": {"type": "tick", "color": "#111111", "size": 8, "thickness": 1.2, "opacity": 1},
         "encoding": {"x": {"field": "g", "type": "nominal"}, "y": {"field": "hi", "type": "quantitative"}}},
        {"data": {"name": "dots"}, "transform": [{"filter": "datum.p == 'D'"}],
         "mark": {"type": "point", "filled": true, "color": "#2a58a6", "size": 42, "opacity": 1, "strokeWidth": 0},
         "encoding": {"x": {"field": "g", "type": "nominal"}, "xOffset": {"field": "r", "type": "ordinal", "scale": {"domain": [1,2,3,4,5,6,7,8]}}, "y": {"field": "v", "type": "quantitative"}}},
        {"data": {"values": [{}]},
         "mark": {"type": "rule", "strokeDash": [3, 3], "color": "#111111", "strokeWidth": 1.2},
         "encoding": {"y": {"datum": 100, "type": "quantitative"}}},
        {"data": {"name": "sig"}, "transform": [{"filter": "datum.p == 'D'"}],
         "mark": {"type": "text", "baseline": "middle", "align": "center"},
         "encoding": {"x": {"field": "g", "type": "nominal"}, "y": {"field": "y", "type": "quantitative"}, "text": {"field": "s"},
                      "size": {"field": "s", "type": "nominal", "scale": {"domain": ["**","NS","#","##"], "range": [15,14,10.5,10.5]}, "legend": null}}}
      ]},
      {"data": {"values": [{"letter": "D", "title": "Oxazolone group 4 h"}]},
       "layer": [
        {"mark": {"type": "text", "fontSize": 16, "fontWeight": "bold", "baseline": "middle", "align": "center"},
         "encoding": {"x": {"datum": -0.19, "type": "quantitative", "scale": {"domain": [0, 1]}, "axis": null}, "y": {"datum": 290.5, "type": "quantitative"}, "text": {"field": "letter"}}},
        {"mark": {"type": "point", "shape": "M-1,-0.181L1,-0.181L1,0.181L-1,0.181Z", "size": 25600, "filled": false, "stroke": "#2e60a8", "strokeWidth": 2, "opacity": 1},
         "encoding": {"x": {"datum": 0.474, "type": "quantitative", "scale": {"domain": [0, 1]}, "axis": null}, "y": {"datum": 289.8, "type": "quantitative"}}},
        {"mark": {"type": "text", "fontSize": 13.5, "baseline": "middle", "align": "center"},
         "encoding": {"x": {"datum": 0.474, "type": "quantitative", "scale": {"domain": [0, 1]}, "axis": null}, "y": {"datum": 289.8, "type": "quantitative"}, "text": {"field": "title"}}}
       ]}
    ]
  },
  {
    "width": 284, "height": 188,
    "resolve": {"scale": {"x": "independent"}},
    "layer": [
      {"layer": [
        {"data": {"name": "eBars"}, "mark": {"type": "rule", "strokeWidth": 4},
         "encoding": {"x": {"field": "x", "type": "quantitative", "scale": {"domain": [-3.193, 20.672], "nice": false, "zero": false}, "axis": null},
                      "x2": {"field": "x2"},
                      "y": {"field": "y", "type": "quantitative", "scale": {"domain": [0, 188], "reverse": true, "nice": false, "zero": false}, "axis": null},
                      "color": {"field": "k", "type": "nominal", "scale": {"domain": ["2%", "0.5%"], "range": ["#2a9fd8", "#c42f7b"]}, "legend": null}}},
        {"data": {"name": "eLines"}, "mark": {"type": "rule", "color": "#222222", "strokeWidth": 1.3},
         "encoding": {"x": {"field": "x", "type": "quantitative", "scale": {"domain": [-3.193, 20.672], "nice": false, "zero": false}, "axis": null},
                      "x2": {"field": "x2"},
                      "y": {"field": "y", "type": "quantitative", "scale": {"domain": [0, 188], "reverse": true, "nice": false, "zero": false}, "axis": null},
                      "y2": {"field": "y2"}}},
        {"data": {"name": "eBoxes"}, "mark": {"type": "rect", "filled": false, "stroke": "#666666", "strokeWidth": 1, "strokeDash": [3, 2]},
         "encoding": {"x": {"field": "x", "type": "quantitative", "scale": {"domain": [-3.193, 20.672], "nice": false, "zero": false}, "axis": null},
                      "x2": {"field": "x2"},
                      "y": {"field": "y", "type": "quantitative", "scale": {"domain": [0, 188], "reverse": true, "nice": false, "zero": false}, "axis": null},
                      "y2": {"field": "y2"}}},
        {"data": {"name": "eConn"}, "mark": {"type": "rule", "color": "#777777", "strokeWidth": 0.8},
         "encoding": {"x": {"field": "x", "type": "quantitative", "scale": {"domain": [-3.193, 20.672], "nice": false, "zero": false}, "axis": null},
                      "x2": {"field": "x2"},
                      "y": {"field": "y", "type": "quantitative", "scale": {"domain": [0, 188], "reverse": true, "nice": false, "zero": false}, "axis": null},
                      "y2": {"field": "y2"}}},
        {"data": {"name": "eArrowsD"}, "mark": {"type": "point", "size": 144, "strokeWidth": 1.1, "opacity": 1, "filled": true},
         "encoding": {"x": {"field": "x", "type": "quantitative", "scale": {"domain": [-3.193, 20.672], "nice": false, "zero": false}, "axis": null},
                      "y": {"field": "y", "type": "quantitative", "scale": {"domain": [0, 188], "reverse": true, "nice": false, "zero": false}, "axis": null},
                      "shape": {"field": "k", "type": "nominal", "scale": {"domain": ["Uru/Oxa", "Drug treatment", "Observation time point"], "range": ["M0,1L0,-0.5M-0.36,-0.4L0,-1L0.36,-0.4Z", "M0,-1L0,0.5M-0.36,0.4L0,1L0.36,0.4Z", "M0,-1L0,0.5M-0.36,0.4L0,1L0.36,0.4Z"]}, "legend": null},
                      "fill": {"field": "k", "type": "nominal", "scale": {"domain": ["Uru/Oxa", "Drug treatment", "Observation time point"], "range": ["#e33b3b", "#343a92", "#111111"]}, "legend": null},
                      "stroke": {"field": "k", "type": "nominal", "scale": {"domain": ["Uru/Oxa", "Drug treatment", "Observation time point"], "range": ["#e33b3b", "#343a92", "#111111"]}, "legend": null}}},
        {"data": {"name": "eTextD"}, "mark": {"type": "text", "fontSize": 12.5, "align": "center", "baseline": "middle"},
         "encoding": {"x": {"field": "x", "type": "quantitative", "scale": {"domain": [-3.193, 20.672], "nice": false, "zero": false}, "axis": null},
                      "y": {"field": "y", "type": "quantitative", "scale": {"domain": [0, 188], "reverse": true, "nice": false, "zero": false}, "axis": null},
                      "text": {"field": "t"}}},
        {"data": {"values": [{"t": "Protocol"}]}, "mark": {"type": "text", "fontSize": 13.5, "align": "center", "baseline": "middle"},
         "encoding": {"x": {"datum": 2.32, "type": "quantitative", "scale": {"domain": [-3.193, 20.672], "nice": false, "zero": false}, "axis": null},
                      "y": {"datum": -8.7, "type": "quantitative", "scale": {"domain": [0, 188], "reverse": true, "nice": false, "zero": false}, "axis": null},
                      "text": {"field": "t"}}},
        {"data": {"values": [{"t": "E"}]}, "mark": {"type": "text", "fontSize": 16, "fontWeight": "bold", "align": "center", "baseline": "middle"},
         "encoding": {"x": {"datum": -7.55, "type": "quantitative", "scale": {"domain": [-3.193, 20.672], "nice": false, "zero": false}, "axis": null},
                      "y": {"datum": -7, "type": "quantitative", "scale": {"domain": [0, 188], "reverse": true, "nice": false, "zero": false}, "axis": null},
                      "text": {"field": "t"}}}
      ]},
      {"layer": [
        {"data": {"name": "eLinesH"}, "mark": {"type": "rule", "color": "#222222", "strokeWidth": 1.3},
         "encoding": {"x": {"field": "x", "type": "quantitative", "scale": {"domain": [-14.5, 9.1667], "nice": false, "zero": false}, "axis": null},
                      "x2": {"field": "x2"},
                      "y": {"field": "y", "type": "quantitative", "scale": {"domain": [0, 188], "reverse": true, "nice": false, "zero": false}, "axis": null},
                      "y2": {"field": "y2"}}},
        {"data": {"name": "eArrowsH"}, "mark": {"type": "point", "size": 144, "strokeWidth": 1.1, "opacity": 1, "filled": true},
         "encoding": {"x": {"field": "x", "type": "quantitative", "scale": {"domain": [-14.5, 9.1667], "nice": false, "zero": false}, "axis": null},
                      "y": {"field": "y", "type": "quantitative", "scale": {"domain": [0, 188], "reverse": true, "nice": false, "zero": false}, "axis": null},
                      "shape": {"field": "k", "type": "nominal", "scale": {"domain": ["Uru/Oxa", "Drug treatment", "Observation time point"], "range": ["M0,1L0,-0.5M-0.36,-0.4L0,-1L0.36,-0.4Z", "M0,-1L0,0.5M-0.36,0.4L0,1L0.36,0.4Z", "M0,-1L0,0.5M-0.36,0.4L0,1L0.36,0.4Z"]}, "legend": null},
                      "fill": {"field": "k", "type": "nominal", "scale": {"domain": ["Uru/Oxa", "Drug treatment", "Observation time point"], "range": ["#e33b3b", "#343a92", "#111111"]}, "legend": null},
                      "stroke": {"field": "k", "type": "nominal", "scale": {"domain": ["Uru/Oxa", "Drug treatment", "Observation time point"], "range": ["#e33b3b", "#343a92", "#111111"]}, "legend": null}}},
        {"data": {"name": "eTextH"}, "mark": {"type": "text", "fontSize": 12.5, "align": "center", "baseline": "middle"},
         "encoding": {"x": {"field": "x", "type": "quantitative", "scale": {"domain": [-14.5, 9.1667], "nice": false, "zero": false}, "axis": null},
                      "y": {"field": "y", "type": "quantitative", "scale": {"domain": [0, 188], "reverse": true, "nice": false, "zero": false}, "axis": null},
                      "text": {"field": "t"}}}
      ]}
    ]
  },
  {
    "width": 283, "height": 188,
    "resolve": {"scale": {"x": "independent"}},
    "layer": [
      {"layer": [
        {"data": {"name": "bars"}, "transform": [{"filter": "datum.p == 'F'"}],
         "mark": {"type": "bar", "fill": "white", "stroke": "#2b2b2b", "strokeWidth": 1.5},
         "encoding": {
           "x": {"field": "g", "type": "nominal", "sort": null, "title": null,
                 "scale": {"domain": ["+Veh","++Ket","+SB","+BQ123","+L733060","+TSLP Ab"], "paddingInner": 0.2, "paddingOuter": 0.1},
                 "axis": {"labelAngle": -45, "labelFontSize": 13, "ticks": false, "domainWidth": 1.5, "labelPadding": 3}},
           "y": {"field": "m", "type": "quantitative", "title": "% of normalized falling latency",
                 "scale": {"domain": [0, 200], "range": [188, 10], "nice": false},
                 "axis": {"values": [0,50,100,150,200], "tickCount": 10, "labelOverlap": false, "labelFontSize": 13, "tickSize": 5, "tickWidth": 1.5, "domainWidth": 1.5, "labelPadding": 3, "titleFontSize": 12, "titlePadding": 5}}
         }},
        {"data": {"name": "bars"}, "transform": [{"filter": "datum.p == 'F'"}],
         "mark": {"type": "rule", "color": "#111111", "strokeWidth": 1.2},
         "encoding": {"x": {"field": "g", "type": "nominal"}, "y": {"field": "lo", "type": "quantitative"}, "y2": {"field": "hi"}}},
        {"data": {"name": "bars"}, "transform": [{"filter": "datum.p == 'F'"}],
         "mark": {"type": "tick", "color": "#111111", "size": 8, "thickness": 1.2, "opacity": 1},
         "encoding": {"x": {"field": "g", "type": "nominal"}, "y": {"field": "lo", "type": "quantitative"}}},
        {"data": {"name": "bars"}, "transform": [{"filter": "datum.p == 'F'"}],
         "mark": {"type": "tick", "color": "#111111", "size": 8, "thickness": 1.2, "opacity": 1},
         "encoding": {"x": {"field": "g", "type": "nominal"}, "y": {"field": "hi", "type": "quantitative"}}},
        {"data": {"name": "dots"}, "transform": [{"filter": "datum.p == 'F'"}],
         "mark": {"type": "point", "filled": true, "color": "#2a58a6", "size": 42, "opacity": 1, "strokeWidth": 0},
         "encoding": {"x": {"field": "g", "type": "nominal"}, "xOffset": {"field": "r", "type": "ordinal", "scale": {"domain": [1,2,3,4,5,6], "paddingOuter": 1.5}}, "y": {"field": "v", "type": "quantitative"}}},
        {"data": {"values": [{}]},
         "mark": {"type": "rule", "strokeDash": [3, 3], "color": "#111111", "strokeWidth": 1.2},
         "encoding": {"y": {"datum": 100, "type": "quantitative"}}},
        {"data": {"name": "sig"}, "transform": [{"filter": "datum.p == 'F'"}],
         "mark": {"type": "text", "baseline": "middle", "align": "center", "fontSize": 14},
         "encoding": {"x": {"field": "g", "type": "nominal"}, "y": {"field": "y", "type": "quantitative"}, "text": {"field": "s"}}},
        {"data": {"values": [{"t": "Rotarod test"}]},
         "mark": {"type": "text", "fontSize": 13.5, "baseline": "middle", "align": "center", "dx": 7},
         "encoding": {"y": {"datum": 221, "type": "quantitative"}, "text": {"field": "t"}}}
      ]},
      {"data": {"values": [{"letter": "F"}]},
       "mark": {"type": "text", "fontSize": 16, "fontWeight": "bold", "baseline": "middle", "align": "center"},
       "encoding": {"x": {"datum": -0.201, "type": "quantitative", "scale": {"domain": [0, 1]}, "axis": null}, "y": {"datum": 218, "type": "quantitative"}, "text": {"field": "letter"}}}
    ]
  }
]
}
